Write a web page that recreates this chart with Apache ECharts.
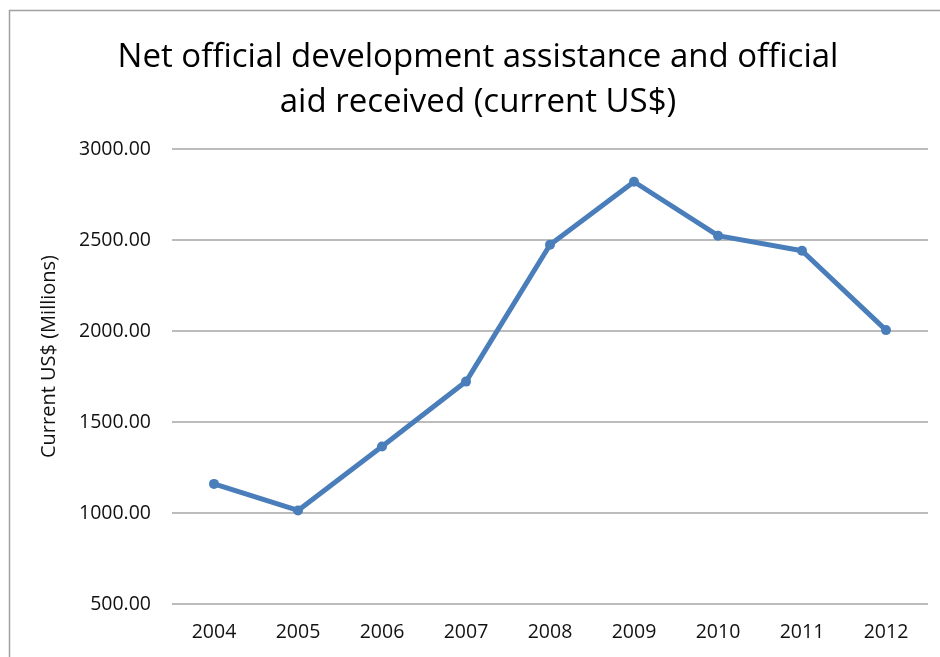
<!DOCTYPE html>
<html>
<head>
<meta charset="utf-8">
<script src="https://cdn.jsdelivr.net/npm/echarts@6/dist/echarts.min.js"></script>
<style>
html,body{margin:0;padding:0;background:#fff;}
#chart{width:940px;height:657px;}
</style>
</head>
<body>
<div id="chart"></div>
<script>
const titleText = 'Net official development assistance and official\naid received (current US$)';
const yAxisTitle = 'Current US$ (Millions)';
const years = ['2004','2005','2006','2007','2008','2009','2010','2011','2012'];
const aidValues = [1160, 1014, 1365, 1722, 2474, 2820, 2524, 2441, 2005];
const yMin = 500, yMax = 3000, yStep = 500;

const chart = echarts.init(document.getElementById('chart'), null, {renderer: 'canvas'});
const font = 'Open Sans';
chart.setOption({
  backgroundColor: '#fff',
  animation: false,
  title: {
    text: titleText,
    left: 473,
    top: 30,
    textAlign: 'center',
    padding: 5,
    textStyle: {fontFamily: font, fontSize: 33, fontWeight: 'normal', color: '#000', lineHeight: 45}
  },
  graphic: [{
    type: 'rect',
    shape: {x: 9.5, y: 10.5, width: 1000, height: 1000},
    style: {fill: 'none', stroke: '#a0a0a0', lineWidth: 1.5},
    silent: true
  }],
  grid: {left: 172, right: 12, top: 149, bottom: 53, containLabel: false},
  xAxis: {
    type: 'category',
    data: years,
    boundaryGap: true,
    axisLine: {show: false},
    axisTick: {show: false},
    axisLabel: {fontFamily: font, fontSize: 19.5, color: '#111', margin: 18}
  },
  yAxis: {
    type: 'value',
    min: yMin, max: yMax, interval: yStep,
    name: yAxisTitle,
    nameLocation: 'middle',
    nameGap: 113,
    nameRotate: 90,
    nameTextStyle: {fontFamily: font, fontSize: 20, color: '#111', padding: [0, 0, 0, 40]},
    axisLine: {show: false},
    axisTick: {show: false},
    splitLine: {lineStyle: {color: '#a6a6a6', width: 1.5}},
    axisLabel: {fontFamily: font, fontSize: 19.5, color: '#111', margin: 21,
      formatter: v => v.toFixed(2)}
  },
  series: [{
    type: 'line',
    data: aidValues,
    symbol: 'circle',
    symbolSize: 10,
    lineStyle: {color: '#4a7ebb', width: 5},
    itemStyle: {color: '#4a7ebb'}
  }]
});
</script>
</body>
</html>
